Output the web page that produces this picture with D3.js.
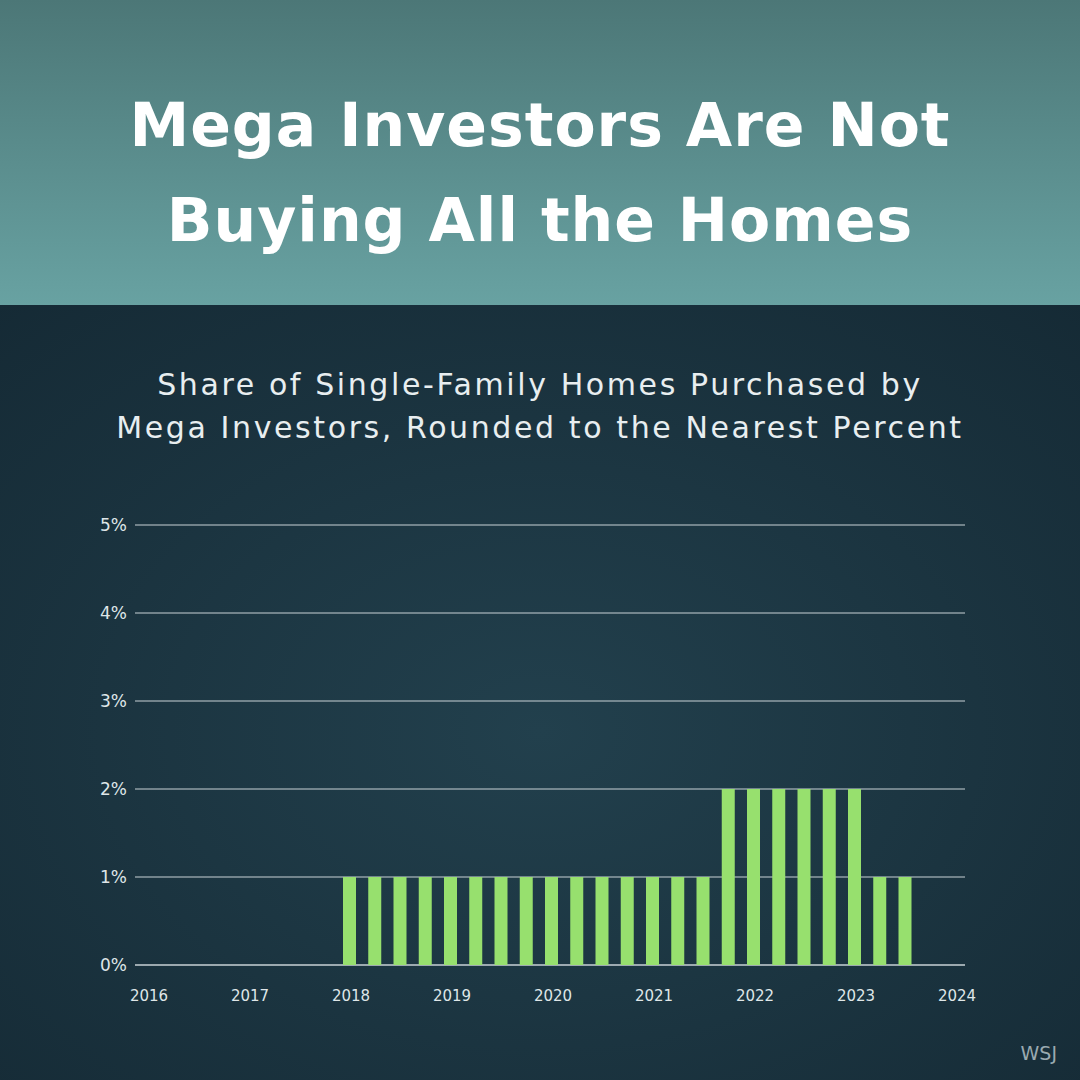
<!DOCTYPE html>
<html><head><meta charset="utf-8">
<script src="https://cdn.jsdelivr.net/npm/d3@7"></script>
<style>body{margin:0;background:#1d3744}svg{display:block}</style>
</head><body>
<svg id="c" width="1080" height="1080"></svg>
<script>
// quarterly bars, 2018 Q1 .. 2023 Q3
const quarters = ['2018Q1','2018Q2','2018Q3','2018Q4','2019Q1','2019Q2','2019Q3','2019Q4',
  '2020Q1','2020Q2','2020Q3','2020Q4','2021Q1','2021Q2','2021Q3','2021Q4',
  '2022Q1','2022Q2','2022Q3','2022Q4','2023Q1','2023Q2','2023Q3']
const shares = [1,1,1,1,1,1,1,1,1,1,1,1,1,1,1,2,2,2,2,2,2,1,1]
const yearTicks = [2016,2017,2018,2019,2020,2021,2022,2023,2024]
const pctTicks = [0,1,2,3,4,5]

const svg = d3.select('#c')
const defs = svg.append('defs')
const hg = defs.append('linearGradient').attr('id','hg').attr('x1',0).attr('y1',0).attr('x2',0).attr('y2',1)
hg.append('stop').attr('offset',0).attr('stop-color','#4c7777')
hg.append('stop').attr('offset',1).attr('stop-color','#68a2a2')
const bg = defs.append('radialGradient').attr('id','bg').attr('cx','50%').attr('cy','55%').attr('r','75%')
bg.append('stop').attr('offset',0).attr('stop-color','#22404d')
bg.append('stop').attr('offset',1).attr('stop-color','#152a35')

svg.append('rect').attr('y',305).attr('width',1080).attr('height',775).attr('fill','url(#bg)')
svg.append('rect').attr('width',1080).attr('height',305).attr('fill','url(#hg)')

const font = '"DejaVu Sans", sans-serif'
const title = ['Mega Investors Are Not', 'Buying All the Homes']
const sub = ['Share of Single-Family Homes Purchased by', 'Mega Investors, Rounded to the Nearest Percent']
svg.selectAll('text.t').data(title).join('text')
  .attr('x',540).attr('y',(d,i)=>146+i*95).attr('text-anchor','middle').attr('fill','#fff')
  .attr('font-family',font).attr('font-weight',700).attr('font-size',60).attr('letter-spacing',1).text(d=>d)
svg.selectAll('text.s').data(sub).join('text')
  .attr('x',540).attr('y',(d,i)=>395+i*43).attr('text-anchor','middle').attr('fill','#e8eef0')
  .attr('font-family',font).attr('font-size',30).attr('letter-spacing',2.6).text(d=>d)

const x = d3.scaleLinear().domain([2016,2024]).range([149,957])
const y = d3.scaleLinear().domain([0,5]).range([965,525])

const g = svg.append('g')
g.selectAll('line.grid').data(pctTicks).join('line')
  .attr('x1',135).attr('x2',965).attr('y1',d=>y(d)).attr('y2',d=>y(d))
  .attr('stroke','#c9d2d6').attr('stroke-width',d=>d===0?1.5:1)
g.selectAll('text.yl').data(pctTicks).join('text')
  .attr('x',127).attr('y',d=>y(d)+6).attr('text-anchor','end').attr('fill','#dfe6e8')
  .attr('font-family',font).attr('font-size',17).text(d=>d+'%')
g.selectAll('text.xl').data(yearTicks).join('text')
  .attr('x',d=>x(d)).attr('y',1001).attr('text-anchor','middle').attr('fill','#dfe6e8')
  .attr('font-family',font).attr('font-size',15).text(d=>d)

const qpos = q => +q.slice(0,4) + (+q.slice(5)-1)/4
g.selectAll('rect.bar').data(quarters).join('rect')
  .attr('x',(q)=>x(qpos(q))-8).attr('width',13)
  .attr('y',(q,i)=>y(shares[i])).attr('height',(q,i)=>y(0)-y(shares[i]))
  .attr('fill','#97e06e')

svg.append('text').attr('x',1057).attr('y',1060).attr('text-anchor','end').attr('fill','#9aa9b0')
  .attr('font-family',font).attr('font-size',19).text('WSJ')
</script>
</body></html>
